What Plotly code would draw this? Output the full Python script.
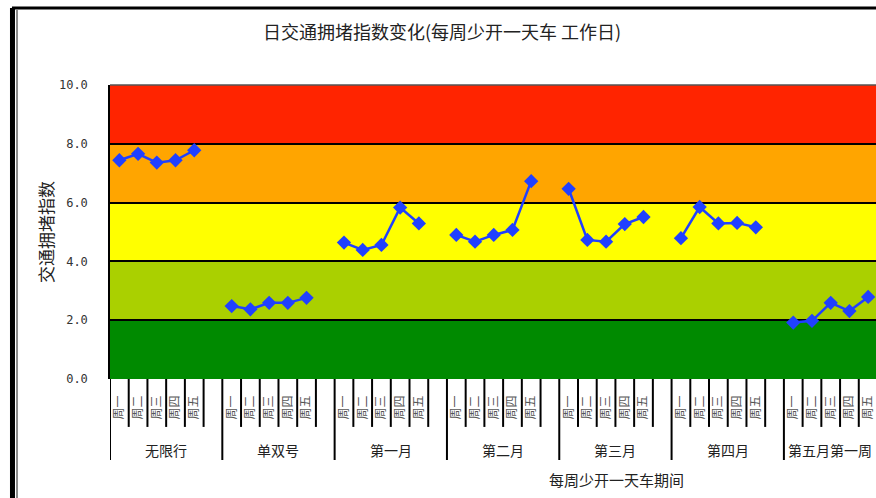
import plotly.graph_objects as go

# ---- data ----
group_names = ["无限行", "单双号", "第一月", "第二月", "第三月", "第四月", "第五月第一周"]
day_names = ["周一", "周二", "周三", "周四", "周五"]

idx_wuxianxing = [7.44, 7.66, 7.36, 7.44, 7.78]
idx_danshuanghao = [2.48, 2.37, 2.59, 2.59, 2.76]
idx_month1 = [4.64, 4.39, 4.56, 5.83, 5.29]
idx_month2 = [4.90, 4.67, 4.90, 5.07, 6.73]
idx_month3 = [6.47, 4.73, 4.67, 5.27, 5.51]
idx_month4 = [4.79, 5.85, 5.29, 5.31, 5.16]
idx_month5_week1 = [1.92, 1.98, 2.59, 2.31, 2.79]

series = [idx_wuxianxing, idx_danshuanghao, idx_month1, idx_month2,
          idx_month3, idx_month4, idx_month5_week1]

y_ticks = [0, 2, 4, 6, 8, 10]
y_ticktext = ["0.0", "2.0", "4.0", "6.0", "8.0", "10.0"]

# congestion level bands (lower, upper, colour)
bands = [(0, 2, "#008A00"), (2, 4, "#AAD000"), (4, 6, "#FFFF00"),
         (6, 8, "#FFA500"), (8, 10, "#FF2400")]

# each group occupies 6 slots: 5 weekdays plus one empty slot
SLOTS = 6

xs, ys, tickvals, ticktext = [], [], [], []
for g, vals in enumerate(series):
    for d, v in enumerate(vals):
        xs.append(g * SLOTS + d)
        ys.append(v)
        tickvals.append(g * SLOTS + d)
        ticktext.append(day_names[d])
    xs.append(g * SLOTS + len(vals))
    ys.append(None)

fig = go.Figure()
fig.add_trace(go.Scatter(
    x=xs, y=ys, mode="lines+markers", connectgaps=False,
    line=dict(color="#2040FF", width=2.5),
    marker=dict(symbol="diamond", size=11, color="#2040FF"),
    showlegend=False, hoverinfo="skip", cliponaxis=False,
))

shapes = []
for lo, hi, col in bands:
    shapes.append(dict(type="rect", xref="paper", yref="y", x0=0, x1=1,
                       y0=lo, y1=hi, fillcolor=col, line=dict(width=0),
                       layer="below"))

# category separators below the axis
n_slots = SLOTS * len(series)
for k in range(n_slots + 1):
    xb = k - 0.5
    long_line = (k % SLOTS == 0)
    shapes.append(dict(type="line", xref="x", yref="paper", x0=xb, x1=xb,
                       y0=0, y1=-0.2755 if long_line else -0.163,
                       line=dict(color="black", width=2)))

# top edge of the plot area
shapes.append(dict(type="line", xref="paper", yref="paper", x0=0, x1=1,
                   y0=1, y1=1, line=dict(color="#555555", width=1.5)))

# outer frame
shapes.append(dict(type="line", xref="paper", yref="paper",
                   x0=-0.128, x1=1.0, y0=1.262, y1=1.262,
                   line=dict(color="black", width=3)))
shapes.append(dict(type="line", xref="paper", yref="paper",
                   x0=-0.1273, x1=-0.1273, y0=1.262, y1=-0.45,
                   line=dict(color="black", width=5)))
shapes.append(dict(type="line", xref="paper", yref="paper",
                   x0=-0.1214, x1=-0.1214, y0=1.255, y1=-0.45,
                   line=dict(color="#666666", width=1.5)))

annotations = []
for g, name in enumerate(group_names):
    last = (g == len(group_names) - 1)
    annotations.append(dict(
        x=g * SLOTS + (SLOTS - 1) / 2, xref="x", y=-0.2415, yref="paper",
        text=name, showarrow=False, xanchor="center", yanchor="middle",
        xshift=-10 if last else 0,
        font=dict(family="Noto Sans CJK SC", size=14, color="#222222")))

annotations.append(dict(
    x=0.6606, xref="paper", y=-0.3435, yref="paper", text="每周少开一天车期间",
    showarrow=False, xanchor="center", yanchor="middle",
    font=dict(family="Noto Sans CJK SC", size=15, color="#222222")))

annotations.append(dict(
    x=-0.085, xref="paper", y=0.5, yref="paper", text="交通拥堵指数",
    showarrow=False, xanchor="center", yanchor="middle", textangle=-90,
    font=dict(family="Noto Sans CJK SC", size=17, color="#222222")))

fig.update_layout(
    width=876, height=498,
    margin=dict(l=110, r=0, t=85, b=119),
    paper_bgcolor="white", plot_bgcolor="white",
    title=dict(text="日交通拥堵指数变化(每周少开一天车 工作日)",
               x=0.5046, y=0.934, xanchor="center", yanchor="middle",
               xref="container", yref="container",
               font=dict(family="Noto Sans CJK SC", size=18, color="#222222")),
    shapes=shapes,
    annotations=annotations,
    xaxis=dict(range=[-0.5, 40.42], tickmode="array", tickvals=tickvals,
               ticktext=ticktext, tickangle=-90, ticks="", showgrid=False,
               zeroline=False, showline=False, ticklabelstandoff=13,
               tickfont=dict(family="Noto Sans CJK SC", size=12, color="#555555")),
    yaxis=dict(range=[0, 10], tickmode="array", tickvals=y_ticks,
               ticktext=y_ticktext, showgrid=True, gridcolor="black",
               gridwidth=1.5, zeroline=False, showline=True, linecolor="black",
               linewidth=1.5, ticks="", ticklabelstandoff=18,
               tickfont=dict(family="DejaVu Sans Mono", size=12, color="#333333")),
)

fig.write_html("out.html")
